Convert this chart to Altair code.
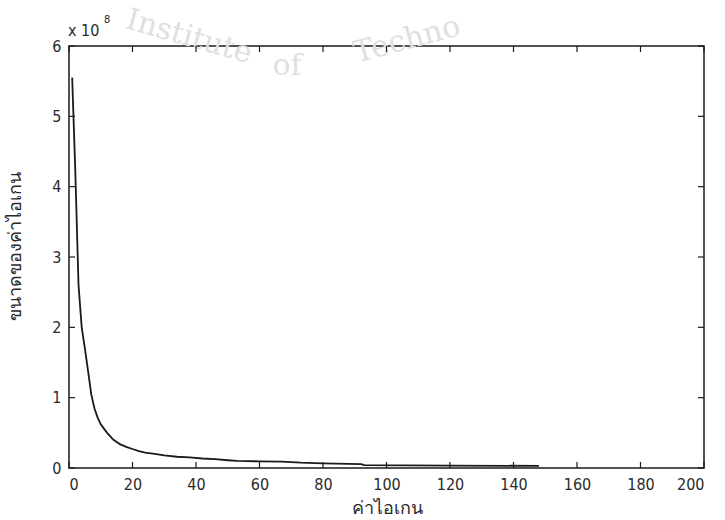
import altair as alt
import pandas as pd

# eigenvalue index and magnitude (units of 1e8)
idx = [1, 2, 3, 4, 5, 6, 7, 8, 9, 10, 11, 12, 14, 16, 18, 20, 22, 24, 27, 30,
       34, 38, 42, 46, 50, 53, 60, 67, 73, 80, 92, 93, 120, 148]
mag = [5.55, 4.2, 2.6, 2.0, 1.7, 1.38, 1.05, 0.85, 0.72, 0.62, 0.56, 0.50, 0.40,
       0.34, 0.30, 0.27, 0.24, 0.22, 0.20, 0.18, 0.16, 0.15, 0.135, 0.125, 0.11,
       0.10, 0.095, 0.09, 0.075, 0.065, 0.055, 0.04, 0.035, 0.03]

x_ticks = [0, 20, 40, 60, 80, 100, 120, 140, 160, 180, 200]
y_ticks = [0, 1, 2, 3, 4, 5, 6]

x_title = "ค่าไอเกน"
y_title = "ขนาดของค่าไอเกน"

# faint scanned watermark text
wm_text = ["Institute", "of", "Techno"]
wm_x = [120, 218, 338]
wm_y = [-9, 20, -6]
wm_angle = [16, 0, 345]

W, H = 635, 422
FONT = "DejaVu Sans Condensed, Liberation Sans, sans-serif"
TXT = "#2a2a2a"

df = pd.DataFrame({"i": idx, "v": mag})
xt = pd.DataFrame({"t": x_ticks})
yt = pd.DataFrame({"t": y_ticks})

xs = alt.Scale(domain=[0, 200], nice=False, zero=False)
ys = alt.Scale(domain=[0, 6], nice=False)

wm_layers = [
    alt.Chart(pd.DataFrame({"s": [t]})).mark_text(
        font="DejaVu Serif", fontSize=30, color="#e0e0e0", angle=a,
        align="center", baseline="middle"
    ).encode(text="s:N", x=alt.value(px), y=alt.value(py))
    for t, px, py, a in zip(wm_text, wm_x, wm_y, wm_angle)
]

line = alt.Chart(df).mark_line(color="#1a1a1a", strokeWidth=1.8).encode(
    x=alt.X("i:Q", scale=xs, axis=alt.Axis(
        values=x_ticks, format="d", title=x_title, ticks=False, domain=False,
        grid=False, labelPadding=8, labelFontSize=16, labelFont=FONT,
        labelColor=TXT, titleFont="Noto Sans", titleFontSize=18,
        titleFontWeight="normal", titleColor=TXT, titleY=45,
        titleBaseline="alphabetic")),
    y=alt.Y("v:Q", scale=ys, axis=alt.Axis(
        values=y_ticks, format="d", title=y_title, ticks=False, domain=False,
        grid=False, labelPadding=8, labelFontSize=16, labelFont=FONT,
        labelColor=TXT, titleFont="Noto Sans", titleFontSize=18,
        titleFontWeight="normal", titleColor=TXT, titleX=-54, titleY=200,
        titleAngle=-90, titleAlign="center", titleBaseline="middle")),
)

tick_col = "#1a1a1a"
bx = alt.Chart(xt).mark_rule(color=tick_col, strokeWidth=1.2).encode(
    x=alt.X("t:Q", scale=xs), y=alt.value(H), y2=alt.value(H - 6))
tx = alt.Chart(xt).mark_rule(color=tick_col, strokeWidth=1.2).encode(
    x=alt.X("t:Q", scale=xs), y=alt.value(0), y2=alt.value(6))
ly = alt.Chart(yt).mark_rule(color=tick_col, strokeWidth=1.2).encode(
    y=alt.Y("t:Q", scale=ys), x=alt.value(0), x2=alt.value(6))
ry = alt.Chart(yt).mark_rule(color=tick_col, strokeWidth=1.2).encode(
    y=alt.Y("t:Q", scale=ys), x=alt.value(W), x2=alt.value(W - 6))

exp_base = alt.Chart(pd.DataFrame({"s": ["x 10"]})).mark_text(
    align="left", baseline="alphabetic", font=FONT, fontSize=16, color=TXT
).encode(text="s:N", x=alt.value(-1), y=alt.value(-10))
exp_pow = alt.Chart(pd.DataFrame({"s": ["8"]})).mark_text(
    align="left", baseline="alphabetic", font=FONT, fontSize=11, color=TXT
).encode(text="s:N", x=alt.value(35), y=alt.value(-23))

chart = alt.layer(*wm_layers, line, bx, tx, ly, ry, exp_base, exp_pow).properties(
    width=W, height=H,
    autosize=alt.AutoSizeParams(type="none"),
    padding={"left": 69, "top": 46, "right": 21, "bottom": 52},
    background="white",
).configure_view(stroke="#1a1a1a", strokeWidth=1.5)

chart.save("out.html", embed_options={"renderer": "svg", "actions": False})
